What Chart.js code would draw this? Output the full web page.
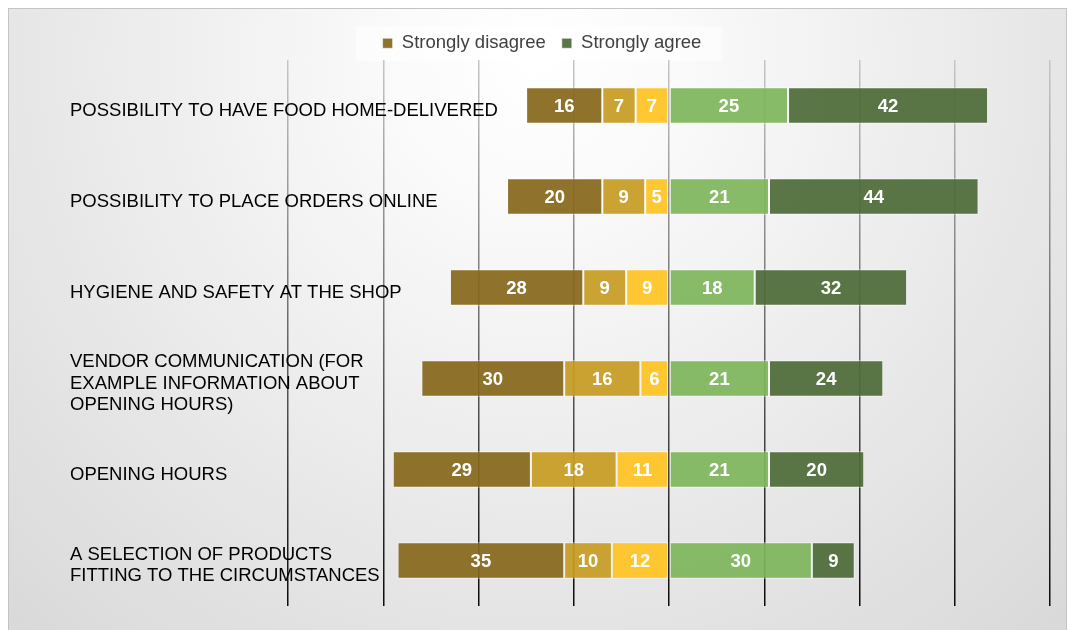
<!DOCTYPE html>
<html>
<head>
<meta charset="utf-8">
<script src="https://cdn.jsdelivr.net/npm/chart.js@4/dist/chart.umd.min.js"></script>
<style>
  html, body { margin: 0; padding: 0; background: #ffffff; }
  #wrap { width: 1069px; height: 630px; }
</style>
</head>
<body>
<div id="wrap"><canvas id="c" width="1069" height="630"></canvas></div>
<script>
const categories = [
  "POSSIBILITY TO HAVE FOOD HOME-DELIVERED",
  "POSSIBILITY TO PLACE ORDERS ONLINE",
  "HYGIENE AND SAFETY AT THE SHOP",
  ["VENDOR COMMUNICATION (FOR", "EXAMPLE INFORMATION ABOUT", "OPENING HOURS)"],
  "OPENING HOURS",
  ["A SELECTION OF PRODUCTS", "FITTING TO THE CIRCUMSTANCES"]
];
const stronglyDisagree = [16, 20, 28, 30, 29, 35];
const disagree         = [7, 9, 9, 16, 18, 10];
const somewhatDisagree = [7, 5, 9, 6, 11, 12];
const agree            = [25, 21, 18, 21, 21, 30];
const stronglyAgree    = [42, 44, 32, 24, 20, 9];
const xTicks = [-80, -60, -40, -20, 0, 20, 40, 60, 80];

const FONT = "'Liberation Sans', Arial, sans-serif";
const neg = a => a.map(v => -v);

function gridGradient(chart) {
  const ca = chart.chartArea;
  if (!ca) return '#888';
  const g = chart.ctx.createLinearGradient(0, ca.top, 0, ca.bottom);
  g.addColorStop(0, '#c6c6c6');
  g.addColorStop(1, '#0a0a0a');
  return g;
}

const legendFitPlugin = {
  id: 'legendFit',
  beforeLayout(chart) {
    const lg = chart.legend;
    if (lg && !lg._patched) {
      const f = lg.fit;
      lg.fit = function () { f.call(this); this.height -= 2.5; };
      lg._patched = true;
    }
  }
};

const bgPlugin = {
  id: 'bg',
  beforeDraw(chart) {
    const ctx = chart.ctx;
    ctx.save();
    ctx.fillStyle = '#ffffff';
    ctx.fillRect(0, 0, chart.width, chart.height);
    const rg = ctx.createRadialGradient(534, 60, 0, 534, 60, 830);
    rg.addColorStop(0, '#ffffff');
    rg.addColorStop(0.15, '#fbfbfb');
    rg.addColorStop(1, '#d6d6d6');
    ctx.fillStyle = rg;
    ctx.fillRect(8, 8, 1059, 640);
    ctx.strokeStyle = '#c4c4c4';
    ctx.lineWidth = 1;
    ctx.strokeRect(8.5, 8.5, 1058, 640);
    const lg = chart.legend;
    if (lg && lg.legendHitBoxes && lg.legendHitBoxes.length) {
      const hb = lg.legendHitBoxes;
      const minX = Math.min(...hb.map(h => h.left));
      const maxX = Math.max(...hb.map(h => h.left + h.width));
      const cy = hb[0].top + hb[0].height / 2;
      ctx.fillStyle = 'rgba(255,255,255,0.55)';
      ctx.fillRect(minX - 27, cy - 17, maxX - minX + 48, 35);
    }
    ctx.restore();
  }
};

const catLabelPlugin = {
  id: 'catLabels',
  beforeDatasetsDraw(chart) {
    const ctx = chart.ctx;
    const ys = chart.scales.y;
    ctx.save();
    ctx.font = "18.5px " + FONT;
    ctx.fillStyle = '#000000';
    ctx.textAlign = 'left';
    ctx.textBaseline = 'middle';
    const lh = 21.5;
    const x = ys.left;
    chart.data.labels.forEach((lab, i) => {
      const lines = Array.isArray(lab) ? lab : [lab];
      const cy = ys.getPixelForValue(i) + 5;
      const y0 = cy - (lines.length - 1) * lh / 2;
      lines.forEach((t, k) => ctx.fillText(t, x, y0 + k * lh));
    });
    ctx.restore();
  }
};

const valuePlugin = {
  id: 'values',
  afterDraw(chart) {
    const ctx = chart.ctx;
    ctx.save();
    ctx.font = "bold 18.5px " + FONT;
    ctx.fillStyle = '#ffffff';
    ctx.textAlign = 'center';
    ctx.textBaseline = 'middle';
    chart.data.datasets.forEach((ds, di) => {
      const meta = chart.getDatasetMeta(di);
      meta.data.forEach((el, i) => {
        const v = Math.abs(ds.data[i]);
        const x = (el.x + el.base) / 2;
        ctx.fillText(String(v), x, el.y + 1);
      });
    });
    ctx.restore();
  }
};

const border = 'rgba(255,255,255,0.55)';
const datasets = [
  { label: 'Somewhat disagree', data: neg(somewhatDisagree), backgroundColor: 'rgba(255,196,36,0.93)' },
  { label: 'Disagree', data: neg(disagree), backgroundColor: 'rgba(198,156,36,0.93)' },
  { label: 'Strongly disagree', data: neg(stronglyDisagree), backgroundColor: 'rgba(134,104,28,0.93)' },
  { label: 'Agree', data: agree, backgroundColor: 'rgba(126,182,92,0.93)' },
  { label: 'Strongly agree', data: stronglyAgree, backgroundColor: 'rgba(77,106,56,0.93)' }
].map(d => Object.assign(d, {
  borderColor: border, borderWidth: 1, borderSkipped: false,
  barPercentage: 0.8, categoryPercentage: 0.5, stack: 's'
}));

new Chart(document.getElementById('c'), {
  type: 'bar',
  data: { labels: categories, datasets },
  options: {
    indexAxis: 'y',
    responsive: false,
    animation: false,
    layout: { padding: { top: 18, left: 34, right: 19, bottom: 24 } },
    plugins: {
      tooltip: { enabled: false },
      legend: {
        position: 'top',
        labels: {
          filter: item => item.text === 'Strongly disagree' || item.text === 'Strongly agree',
          sort: (a, b) => (a.text === 'Strongly disagree' ? -1 : 1),
          boxWidth: 10, boxHeight: 10, padding: 16,
          color: '#404040',
          font: { family: FONT, size: 18.5 }
        }
      }
    },
    scales: {
      x: {
        type: 'linear',
        min: -80, max: 80,
        afterBuildTicks: s => { s.ticks = xTicks.map(v => ({ value: v })); },
        ticks: { display: false },
        border: { display: false },
        grid: { drawTicks: false, lineWidth: 1.5, color: ctx => gridGradient(ctx.chart) }
      },
      y: {
        type: 'category',
        stacked: true,
        grid: { display: false },
        border: { display: false },
        ticks: { display: false },
        afterFit: s => { s.width = 218; }
      },
      pad: {
        type: 'linear', position: 'left', weight: 10,
        grid: { display: false }, border: { display: false },
        ticks: { display: false },
        afterFit: s => { s.width = 36; }
      }
    }
  },
  plugins: [legendFitPlugin, bgPlugin, catLabelPlugin, valuePlugin]
});
</script>
</body>
</html>
